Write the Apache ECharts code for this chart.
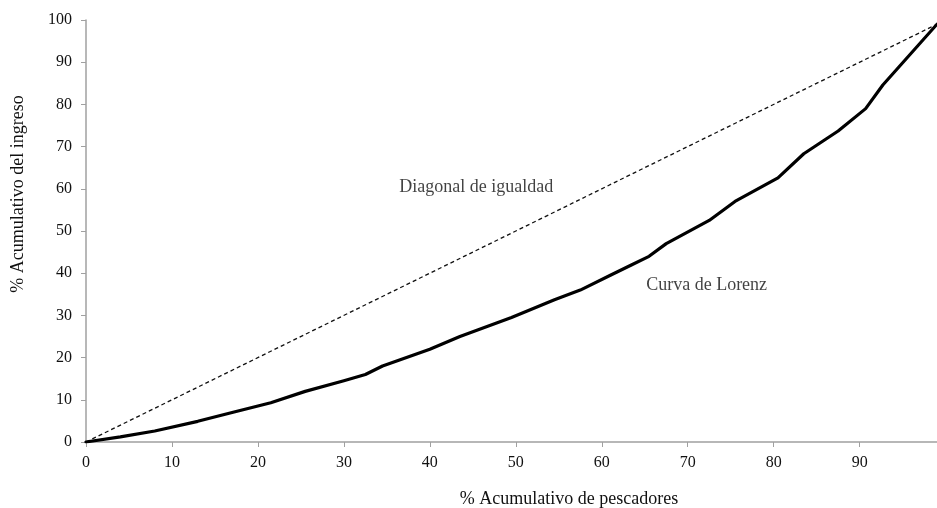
<!DOCTYPE html>
<html>
<head>
<meta charset="utf-8">
<script src="https://cdn.jsdelivr.net/npm/echarts@6/dist/echarts.min.js"></script>
<style>
html,body{margin:0;padding:0;background:#fff;}
#chart{width:937px;height:508px;}
</style>
</head>
<body>
<div id="chart"></div>
<script>
// Cumulative % of fishers (x) and cumulative % of income (y)
const lorenzX = [0, 4, 8, 13, 17, 21.5, 25.5, 30, 32.5, 34.5, 40, 43.5, 49.5, 54.5, 57.5, 61, 63.5, 65.5, 67.5, 72.5, 75.5, 80.5, 83.5, 87.5, 90.7, 92.7, 99];
const lorenzY = [0, 1.2, 2.6, 4.9, 7, 9.3, 12, 14.5, 16, 18, 22, 25, 29.5, 33.7, 36, 39.5, 42, 44, 47, 52.5, 57, 62.6, 68.3, 73.7, 79, 84.6, 99];
const diagonalX = [0, 99];
const diagonalY = [0, 99];
const annotations = [
  { text: 'Diagonal de igualdad', x: 45.4, y: 60.4 },
  { text: 'Curva de Lorenz', x: 72.2, y: 37.2 }
];
const xTicks = [0, 10, 20, 30, 40, 50, 60, 70, 80, 90];
const xAxisName = '% Acumulativo de pescadores';
const yAxisName = '% Acumulativo del ingreso';

const font = 'Liberation Serif, Times New Roman, serif';
const chart = echarts.init(document.getElementById('chart'));
chart.setOption({
  animation: false,
  backgroundColor: '#fff',
  textStyle: { fontFamily: font },
  grid: { left: 86, right: 0, top: 20, bottom: 66, containLabel: false, outerBoundsMode: 'none' },
  xAxis: {
    type: 'value', min: 0, max: 99, interval: 10,
    axisLine: { lineStyle: { color: '#a0a0a0', width: 1.5 } },
    axisTick: { show: true, length: 5, lineStyle: { color: '#a0a0a0' } },
    axisLabel: {
      fontFamily: font, fontSize: 16, color: '#111', margin: 13,
      showMaxLabel: false,
      formatter: v => xTicks.indexOf(v) >= 0 ? String(v) : ''
    },
    splitLine: { show: false }
  },
  yAxis: {
    type: 'value', min: 0, max: 100, interval: 10,
    axisLine: { show: true, lineStyle: { color: '#a0a0a0', width: 1.5 } },
    axisTick: { show: true, length: 5, lineStyle: { color: '#a0a0a0' } },
    axisLabel: { fontFamily: font, fontSize: 16, color: '#111', margin: 14 },
    splitLine: { show: false }
  },
  graphic: [
    {
      type: 'text', x: 569, y: 499,
      style: { text: xAxisName, font: '18px ' + font, fill: '#111', textAlign: 'center', textVerticalAlign: 'middle' }
    },
    {
      type: 'text', x: 18, y: 194, rotation: Math.PI / 2,
      style: { text: yAxisName, font: '18px ' + font, fill: '#111', textAlign: 'center', textVerticalAlign: 'middle' }
    }
  ],
  series: [
    {
      type: 'line', name: 'Diagonal',
      data: diagonalX.map((x, i) => [x, diagonalY[i]]),
      symbol: 'none',
      lineStyle: { color: '#111', width: 1.3, type: [4, 3] }
    },
    {
      type: 'line', name: 'Lorenz',
      data: lorenzX.map((x, i) => [x, lorenzY[i]]),
      symbol: 'none',
      lineStyle: { color: '#000', width: 3.2, join: 'round', cap: 'round' }
    },
    {
      type: 'scatter', symbolSize: 0,
      data: annotations.map(a => ({ value: [a.x, a.y], name: a.text })),
      label: {
        show: true, position: 'inside', formatter: p => p.name,
        fontFamily: font, fontSize: 18, color: '#111'
      },
      silent: true
    }
  ]
});
</script>
</body>
</html>
